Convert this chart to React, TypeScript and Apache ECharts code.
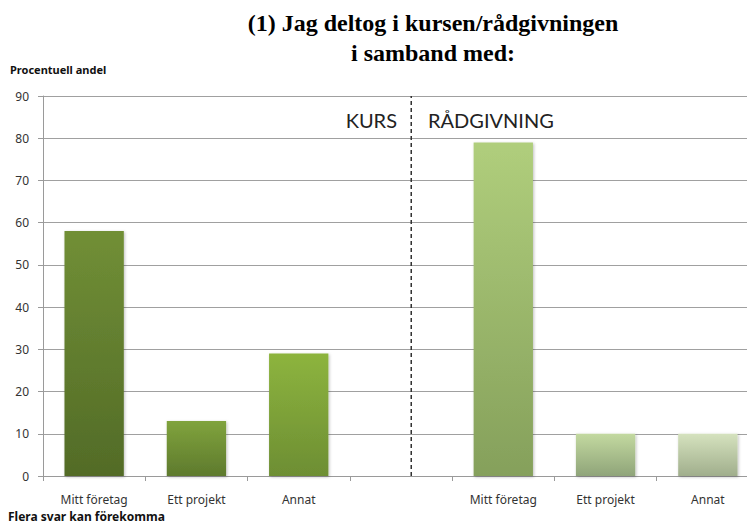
import React, { useEffect, useRef } from "react";
import * as echarts from "echarts";

const categories = ["Mitt företag", "Ett projekt", "Annat", "", "Mitt företag", "Ett projekt", "Annat"];
const values: (number | string)[] = [58, 13, 29, "-", 79, 10, 10];
const topColors = ["#718F36", "#80A33D", "#8DB43E", "#ffffff", "#B0CE7C", "#C3D9A0", "#D5E2BE"];
const bottomColors = ["#526B27", "#5E7A2D", "#6D8E33", "#ffffff", "#85A05B", "#8FA479", "#A0AE8C"];
const yTicks = [0, 10, 20, 30, 40, 50, 60, 70, 80, 90];
const dividerX = 3.6;
const titleText = "(1) Jag deltog i kursen/rådgivningen\ni samband med:";
const yAxisTitle = "Procentuell andel";
const footnote = "Flera svar kan förekomma";
const leftGroup = "KURS";
const rightGroup = "RÅDGIVNING";

export default function App() {
  const ref = useRef<HTMLDivElement>(null);
  useEffect(() => {
    if (!ref.current) return;
    const chart = echarts.init(ref.current, null, { renderer: "svg" });
    const font = "Lato, 'Noto Sans', sans-serif";
    const noto = "'Noto Sans', sans-serif";
    chart.setOption({
      animation: false,
      backgroundColor: "#ffffff",
      title: {
        text: titleText,
        left: 428,
        textAlign: "center",
        top: 3,
        textStyle: {
          fontFamily: "'Liberation Serif', serif",
          fontWeight: "bold",
          fontSize: 24,
          lineHeight: 30,
          color: "#000",
        },
      },
      graphic: [
        {
          type: "text",
          left: 10,
          top: 64,
          style: { text: yAxisTitle, font: `bold 11px ${noto}`, fill: "#111" },
        },
        {
          type: "text",
          left: 8,
          top: 510,
          style: { text: footnote, font: `bold 12px ${noto}`, fill: "#111" },
        },
        {
          type: "text",
          x: 397,
          y: 120,
          style: { text: leftGroup, font: `20px ${font}`, fill: "#222", align: "right", verticalAlign: "middle" },
        },
        {
          type: "text",
          x: 428,
          y: 120,
          style: { text: rightGroup, font: `20px ${font}`, fill: "#222", align: "left", verticalAlign: "middle" },
        },
      ],
      grid: { left: 43, right: 0, top: 96, bottom: 50, containLabel: false },
      xAxis: [
        {
          type: "category",
          data: categories,
          axisLine: { lineStyle: { color: "#9a9a9a", width: 1 } },
          axisTick: { show: true, length: 5, lineStyle: { color: "#9a9a9a" } },
          axisLabel: { fontFamily: noto, fontSize: 12, color: "#333", margin: 17, interval: 0 },
        },
        {
          type: "value",
          min: 0,
          max: 7,
          show: false,
        },
      ],
      yAxis: {
        type: "value",
        min: 0,
        max: 90,
        interval: 10,
        axisLine: { show: true, lineStyle: { color: "#9a9a9a" } },
        axisTick: { show: true, length: 5, lineStyle: { color: "#9a9a9a" } },
        axisLabel: { fontFamily: noto, fontSize: 12, color: "#333", margin: 14 },
        splitLine: { show: true, lineStyle: { color: "#a0a0a0", width: 1 } },
      },
      series: [
        {
          type: "bar",
          barWidth: "58%",
          data: values.map((v, i) => ({
            value: v,
            itemStyle: {
              color: new echarts.graphic.LinearGradient(0, 0, 0, 1, [
                { offset: 0, color: topColors[i] },
                { offset: 1, color: bottomColors[i] },
              ]),
              shadowBlur: 3,
              shadowColor: "rgba(0,0,0,0.25)",
              shadowOffsetX: 1,
              shadowOffsetY: 1,
            },
          })),
        },
        {
          type: "line",
          xAxisIndex: 1,
          data: [
            [dividerX, yTicks[0]],
            [dividerX, yTicks[yTicks.length - 1]],
          ],
          symbol: "none",
          lineStyle: { color: "#333", width: 1.5, type: [4, 3] },
          z: 5,
        },
      ],
    });
    return () => chart.dispose();
  }, []);
  return (
    <div style={{ position: "absolute", left: 0, top: 0, width: 747, height: 526, overflow: "hidden" }}>
      <div ref={ref} style={{ width: 759, height: 526 }} />
    </div>
  );
}
